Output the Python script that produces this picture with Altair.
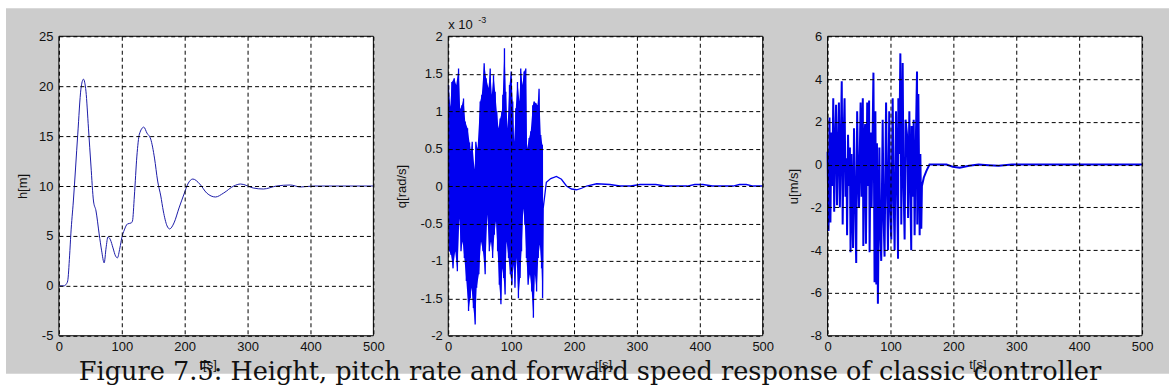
import altair as alt
import pandas as pd

# ---------------- data ----------------
t_ticks = [0, 100, 200, 300, 400, 500]

h_t = [0, 8, 12, 14, 17, 19, 23, 30, 35, 39,
       43, 47, 51, 55, 59, 64, 68, 72, 75, 78,
       82, 86, 90, 93, 97, 100, 104, 109, 115, 117,
       120, 124, 128, 135, 140, 146, 152, 157, 162, 166,
       172, 176, 183, 191, 199, 205, 213, 224, 235, 249,
       262, 278, 289, 309, 325, 346, 368, 384, 405, 500]
h_v = [0, 0, 0.2, 0.5, 3, 5.2, 8.5, 15.2, 19.7, 20.7,
       19.5, 15.8, 12, 8.5, 7.5, 5.2, 3.5, 2.3, 3.8, 4.9,
       4.6, 3.8, 3.0, 2.8, 3.8, 4.8, 5.6, 6.2, 6.3, 6.5,
       9, 13, 15.2, 15.9, 15.3, 14.7, 12.8, 10.5, 9, 7.5,
       6, 5.7, 6.3, 7.8, 9.2, 10.2, 10.7, 10.2, 9.3, 8.9,
       9.3, 10, 10.2, 9.8, 9.7, 10, 10.1, 9.9, 10, 10]
h_ticks = [-5, 0, 5, 10, 15, 20, 25]

# q in units of 1e-3 rad/s : upper and lower excursions of the noisy part
q_up_t = [0.5, 3.2, 5.8, 9.5, 12.7, 16.4, 19.0, 21.7, 24.3, 27.0,
          30.7, 33.9, 36.0, 38.1, 41.8, 43.9, 46.6, 50.8, 53.4, 57.1,
          60.3, 64.0, 66.7, 69.3, 72.0, 74.6, 77.2, 79.9, 82.5, 85.2,
          86.8, 89.4, 91.5, 94.2, 97.4, 100.0, 102.6, 104.8, 107.4, 110.1,
          113.2, 115.3, 118.0, 120.6, 123.3, 125.4, 128.6, 131.2, 134.4, 136.5,
          139.2, 141.8, 144.4, 147.1, 149.7]
q_up_v = [1.35, 1.06, 1.39, 1.44, 1.35, 1.57, 1.03, 1.08, 1.17, 0.86,
          0.77, 0.58, 0.46, 0.59, 0.22, 0.59, 0.50, 1.13, 1.22, 1.64,
          1.44, 1.31, 1.57, 1.22, 1.48, 1.26, 1.00, 0.77, 0.90, 0.99,
          1.22, 1.84, 1.26, 0.77, 1.35, 1.53, 1.13, 0.59, 1.04, 1.39,
          1.13, 1.57, 1.35, 1.53, 1.57, 0.50, 0.64, 0.73, 1.08, 1.13,
          1.11, 1.08, 1.30, 0.68, 0.55]
q_lo_t = [1.8, 4.5, 7.6, 11.1, 14.5, 17.7, 20.3, 23.0, 25.6, 28.8,
          32.3, 35.0, 37.0, 40.0, 42.8, 45.2, 48.7, 52.1, 55.2, 58.7,
          62.1, 65.3, 68.0, 70.6, 73.3, 75.9, 78.5, 81.2, 83.8, 86.0,
          88.1, 90.4, 92.8, 95.8, 98.7, 101.3, 103.7, 106.1, 108.7, 111.6,
          114.2, 116.6, 119.3, 121.9, 124.3, 127.0, 129.9, 132.8, 135.4, 137.8,
          140.5, 143.1, 145.7, 148.4, 150.0]
q_lo_v = [-0.87, -0.92, -1.10, -0.87, -1.14, -0.43, -0.87, -0.74, -0.96, -1.27,
          -1.67, -1.50, -1.36, -1.63, -1.85, -1.36, -1.18, -0.74, -0.87, -1.18,
          -0.38, -0.87, -0.74, -0.96, -0.65, -0.47, -0.87, -1.32, -1.58, -1.10,
          -1.23, -1.45, -0.74, -0.96, -1.18, -1.32, -1.05, -1.36, -0.96, -1.50,
          -1.23, -0.87, -0.30, -0.52, -0.96, -1.32, -1.18, -1.41, -1.76, -1.18,
          -1.41, -0.96, -0.78, -1.10, -1.50]
q_tail_t = [151, 156, 163, 172, 180, 188, 196, 204, 212, 220, 236, 257, 273,
            290, 305, 318, 330, 345, 380, 392, 405, 420, 453, 463, 474, 485, 500]
q_tail_v = [-0.3, 0.05, 0.10, 0.127, 0.09, 0.0, -0.04, -0.05, -0.03, 0.0, 0.03, 0.02, 0.0,
            0.0, 0.02, 0.02, 0.02, 0.0, 0.0, 0.02, 0.02, 0.0, 0.0, 0.02, 0.02, 0.0, 0.0]
q_ticks = [-2, -1.5, -1, -0.5, 0, 0.5, 1, 1.5, 2]

u_t = [0, 1.5, 3, 4.5, 6, 7.5, 9, 10.5, 12, 13.5,
       15, 16.5, 18, 19.5, 21, 22.5, 24, 25.5, 27, 28.5,
       30, 31, 32.5, 34, 35.5, 36.5, 38, 39.5, 40.5, 42,
       43.5, 45.5, 47, 48.5, 50, 51.5, 52.5, 54, 56, 56.8,
       58.5, 59.7, 61, 63, 64.5, 66, 66.8, 68.5, 70, 72.9,
       74.7, 76, 77.5, 78.5, 80, 82.3, 83.5, 85.3, 87.6, 89,
       90.6, 93, 94.5, 96, 98, 99.5, 101.3, 103.5, 105, 106.6,
       108.8, 110.5, 112, 112.5, 114, 115.7, 117.2, 119.4, 120.5, 122.5,
       124, 126.3, 128, 130, 131.5, 133, 133.7, 135.5, 136.9, 138.4,
       140, 142.2, 142.6, 144.3, 146.4, 147.5, 149, 150,
       153, 157, 162, 175, 189, 199, 210, 225, 240, 256, 272, 293, 500]
u_v = [0.6, -3.1, 2.2, -2.7, 1.5, -1.0, 3.1, -2.2, 1.0, 2.8,
       -1.9, 0.5, 2.9, -2.0, 0.8, 3.9, -2.8, 1.2, 3.1, -1.5,
       0.3, -3.3, 1.4, -1.0, 0.8, -4.1, 0.5, -2.5, -3.9, 1.7,
       -1.2, -4.6, 2.5, -0.5, -2.0, 1.0, 2.9, -1.5, 3.1, -3.8,
       1.2, 1.9, -3.7, 2.9, -1.0, 3.0, -4.1, 1.5, -2.0, 4.3,
       -5.5, 2.5, -5.6, 1.0, -6.5, 0.8, -3.0, -4.5, 2.1, -2.5,
       -4.3, 2.9, -1.0, -4.0, 2.5, -2.0, -3.5, 3.1, -1.5, -4.0,
       2.5, -1.0, -4.4, 3.1, 0.5, 5.2, -2.8, 4.75, -0.5, -3.5,
       2.1, 1.4, -2.5, 2.5, -1.0, -4.0, 1.8, -1.5, 2.1, -3.3,
       0.5, 4.35, -2.8, 3.3, -3.3, 0.5, -3.0, -1.0,
       -0.6, -0.3, 0.0, 0.0, 0.0, -0.1, -0.15, -0.05, 0.0, -0.03, -0.05, 0.0, 0.0]
u_ticks = [-8, -6, -4, -2, 0, 2, 4, 6]

caption = "Figure 7.5: Height, pitch rate and forward speed response of classic controller"

# ---------------- tables ----------------
h_df = pd.DataFrame({"t": h_t, "v": h_v})
q_df = pd.DataFrame({"t": q_up_t + q_lo_t + q_tail_t,
                     "v": q_up_v + q_lo_v + q_tail_v}).sort_values("t")
q_up_df = pd.DataFrame({"t": q_up_t, "v": q_up_v})
q_lo_df = pd.DataFrame({"t": q_lo_t, "v": q_lo_v})
u_df = pd.DataFrame({"t": u_t, "v": u_v})
one = pd.DataFrame({"a": [0]})

W, H = 315, 300
GRAY = "#cccccc"
FONT = "Liberation Sans"
QBLUE = "#0000f0"


def x_axis(title_x):
    return alt.Axis(values=t_ticks, title="t[s]", grid=True, gridDash=[4, 3],
                    gridColor="black", gridWidth=1, gridOpacity=1, domain=False,
                    ticks=False, labelFont=FONT, labelFontSize=13, labelColor="#111",
                    labelPadding=5, labelFlush=False, labelOverlap=False,
                    labelExpr="'' + datum.value", titleFont=FONT, titleFontSize=13,
                    titleFontWeight="normal", titleColor="#111", titleX=title_x,
                    titleY=23, titleBaseline="top", titleAlign="center", zindex=1)


def y_axis(vals, title, title_x):
    return alt.Axis(values=vals, title=title, grid=True, gridDash=[4, 3],
                    gridColor="black", gridWidth=1, gridOpacity=1, domain=False,
                    ticks=False, labelFont=FONT, labelFontSize=13, labelColor="#111",
                    labelPadding=6, labelOverlap=False,
                    labelExpr="'' + datum.value", titleFont=FONT, titleFontSize=13,
                    titleFontWeight="normal", titleColor="#111", titleX=title_x,
                    titleY=H / 2, titleAngle=270, titleBaseline="bottom",
                    titleAlign="center", zindex=1)


def box():
    return alt.Chart(one).mark_rect(fillOpacity=0, stroke="black", strokeWidth=1).encode(
        x=alt.value(0), x2=alt.value(W), y=alt.value(0), y2=alt.value(H))


def enc_xy(dom, vals, title, title_x, xtitle_x):
    return dict(
        x=alt.X("t:Q", scale=alt.Scale(domain=[0, 500], nice=False, zero=False),
                axis=x_axis(xtitle_x)),
        y=alt.Y("v:Q", scale=alt.Scale(domain=dom, nice=False, zero=False),
                axis=y_axis(vals, title, title_x)),
    )


def series(df, dom, vals, title, title_x, xtitle_x, color, width=1.0, interp="linear"):
    return alt.Chart(df).mark_line(color=color, strokeWidth=width, interpolate=interp).encode(
        **enc_xy(dom, vals, title, title_x, xtitle_x))


def band(df, dom, vals, title, title_x, xtitle_x, color):
    # solid body of the densely oscillating signal, filled from its excursions to zero
    return alt.Chart(df).mark_area(color=color, opacity=1, interpolate="linear").encode(
        y2=alt.datum(0), **enc_xy(dom, vals, title, title_x, xtitle_x))


# panel 1 also carries the grey figure background and the caption
gray_bg = alt.Chart(one).mark_rect(color=GRAY).encode(
    x=alt.value(-53), x2=alt.value(1112), y=alt.value(-28), y2=alt.value(338))
white_bg = alt.Chart(one).mark_rect(color="white").encode(
    x=alt.value(0), x2=alt.value(W), y=alt.value(0), y2=alt.value(H))
cap = alt.Chart(pd.DataFrame({"c": [caption]})).mark_text(
    align="left", baseline="alphabetic", font="DejaVu Serif", fontSize=25.6,
    color="#111").encode(x=alt.value(20), y=alt.value(344), text="c:N")

p1 = alt.layer(
    gray_bg, white_bg,
    series(h_df, [-5, 25], h_ticks, "h[m]", -29, 149, "#1c1ca8", 1.0, "monotone"),
    box(), cap,
).properties(width=W, height=H)

exp1 = alt.Chart(pd.DataFrame({"c": ["x 10"]})).mark_text(
    align="left", baseline="alphabetic", font=FONT, fontSize=13, color="#111").encode(
    x=alt.value(0), y=alt.value(-7), text="c:N")
exp2 = alt.Chart(pd.DataFrame({"c": ["-3"]})).mark_text(
    align="left", baseline="alphabetic", font=FONT, fontSize=9, color="#111").encode(
    x=alt.value(30), y=alt.value(-13), text="c:N")

q_args = ([-2, 2], q_ticks, "q[rad/s]", -40, 155)
p2 = alt.layer(
    band(q_up_df, *q_args, QBLUE),
    band(q_lo_df, *q_args, QBLUE),
    series(q_df, *q_args, QBLUE, 1.3),
    box(), exp1, exp2,
).properties(width=W, height=H)

p3 = alt.layer(
    series(u_df, [-8, 6], u_ticks, "u[m/s]", -27, 150, "#0000e8", 2.0),
    box(),
).properties(width=W, height=H)


def spacer(w):
    return alt.Chart(one).mark_point(opacity=0).properties(
        width=w, height=H, view=alt.ViewBackground(fillOpacity=0, strokeOpacity=0))


chart = alt.hconcat(p1, spacer(75), p2, spacer(65), p3, spacing=0, bounds="flush").configure_view(
    fill="white", stroke="transparent"
).properties(
    background="white", padding={"left": 5, "top": 7, "right": 2, "bottom": 0}
)

chart.save("out.html", embed_options={"renderer": "svg", "actions": False})
